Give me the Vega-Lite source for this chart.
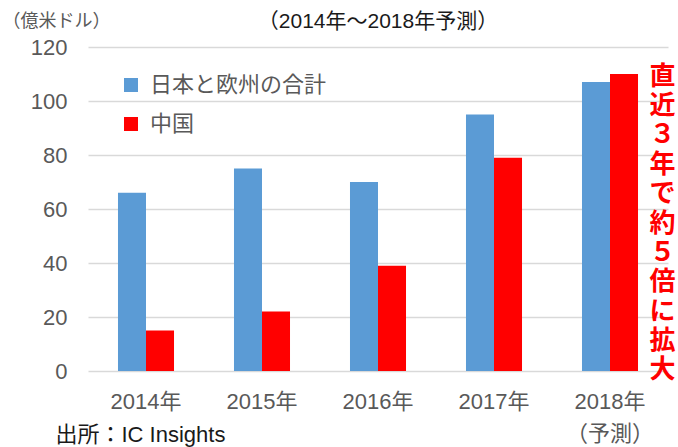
{
  "$schema": "https://vega.github.io/schema/vega-lite/v6.json",
  "width": 580,
  "height": 324,
  "autosize": {"type": "none"},
  "padding": {"left": 88, "top": 47, "right": 10, "bottom": 76},
  "background": "white",
  "title": {
    "text": "（2014年～2018年予測）",
    "frame": "group",
    "anchor": "middle",
    "baseline": "alphabetic",
    "offset": -37,
    "fontSize": 21,
    "fontWeight": "normal",
    "color": "#1a1a1a",
    "font": "Liberation Sans, Noto Sans CJK JP"
  },
  "data": {
    "values": [
      {"year": "2014年", "series": "日本と欧州の合計", "value": 66},
      {"year": "2014年", "series": "中国", "value": 15},
      {"year": "2015年", "series": "日本と欧州の合計", "value": 75},
      {"year": "2015年", "series": "中国", "value": 22},
      {"year": "2016年", "series": "日本と欧州の合計", "value": 70},
      {"year": "2016年", "series": "中国", "value": 39},
      {"year": "2017年", "series": "日本と欧州の合計", "value": 95},
      {"year": "2017年", "series": "中国", "value": 79},
      {"year": "2018年", "series": "日本と欧州の合計", "value": 107},
      {"year": "2018年", "series": "中国", "value": 110}
    ]
  },
  "config": {
    "view": {"stroke": null},
    "font": "Liberation Sans, Noto Sans CJK JP"
  },
  "layer": [
    {
      "transform": [{"filter": "datum.series == '日本と欧州の合計'"}],
      "mark": {"type": "bar"},
      "encoding": {
        "x": {
          "field": "year", "type": "nominal", "sort": null,
          "scale": {"paddingInner": 0.517, "paddingOuter": 0.2585},
          "axis": {
            "title": "出所：IC Insights",
            "titleFont": "Liberation Sans, Noto Sans CJK JP",
            "titleFontSize": 22,
            "titleFontWeight": "normal",
            "titleColor": "#1a1a1a",
            "titleAnchor": "start",
            "titleAlign": "left",
            "titleBaseline": "alphabetic",
            "titleX": -33,
            "titleY": 70,
            "labelAngle": 0,
            "labelFontSize": 22,
            "labelColor": "#595959",
            "labelPadding": 20,
            "labelLineHeight": 32,
            "labelExpr": "datum.label == '2018年' ? ['2018年', '（予測）'] : datum.label",
            "ticks": false,
            "domain": false
          }
        },
        "xOffset": {"field": "series", "type": "nominal", "sort": ["日本と欧州の合計", "中国"]},
        "y": {
          "field": "value", "type": "quantitative",
          "scale": {"domain": [0, 120]},
          "axis": {
            "values": [0, 20, 40, 60, 80, 100, 120],
            "title": "（億米ドル）",
            "titleAngle": 0,
            "titleAlign": "center",
            "titleBaseline": "middle",
            "titleX": -32,
            "titleY": -26,
            "titleFontSize": 18,
            "titleFontWeight": "normal",
            "titleColor": "#595959",
            "labelFontSize": 22,
            "labelColor": "#595959",
            "labelPadding": 21,
            "ticks": false,
            "domain": false,
            "gridColor": "#d9d9d9",
            "gridWidth": 1.5
          }
        },
        "color": {
          "field": "series", "type": "nominal",
          "scale": {"domain": ["日本と欧州の合計", "中国"], "range": ["#5B9BD5", "#FF0000"]},
          "legend": {
            "title": null,
            "orient": "none",
            "legendX": 32,
            "legendY": 27,
            "padding": 0,
            "symbolType": "square",
            "symbolSize": 196,
            "symbolStrokeWidth": 0,
            "symbolOpacity": 1,
            "labelFontSize": 22,
            "labelColor": "#595959",
            "labelOffset": 8,
            "rowPadding": 17,
            "labelLimit": 400
          }
        }
      }
    },
    {
      "transform": [{"filter": "datum.series == '中国'"}],
      "mark": {"type": "bar"},
      "encoding": {
        "x": {"field": "year", "type": "nominal", "sort": null},
        "xOffset": {"field": "series", "type": "nominal", "sort": ["日本と欧州の合計", "中国"]},
        "y": {
          "field": "value", "type": "quantitative",
          "axis": {
            "orient": "right",
            "labels": false,
            "ticks": false,
            "domain": false,
            "grid": false,
            "title": ["直", "近", "３", "年", "で", "約", "５", "倍", "に", "拡", "大"],
            "titleAngle": 0,
            "titleAlign": "center",
            "titleBaseline": "middle",
            "titleX": -6,
            "titleY": 29,
            "titleFontSize": 26,
            "titleFontWeight": "bold",
            "titleColor": "#FF0000",
            "titleLineHeight": 29.4
          }
        },
        "color": {"field": "series", "type": "nominal"}
      }
    }
  ],
  "resolve": {"axis": {"y": "independent"}}
}
